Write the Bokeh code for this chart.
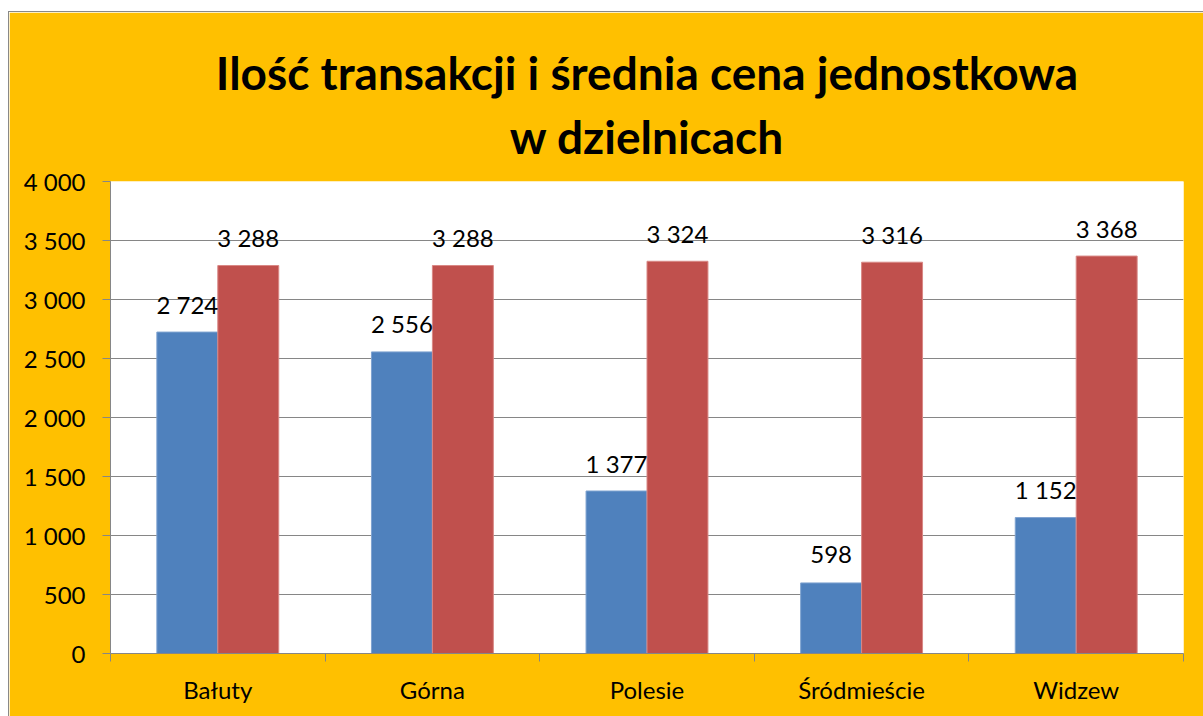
from bokeh.plotting import figure
from bokeh.models import (Range1d, LinearAxis, FixedTicker,
                          CustomJSTickFormatter, ColumnDataSource, Title)
from bokeh.core.properties import value
from bokeh.embed import file_html
from bokeh.resources import INLINE

categories = ["Bałuty", "Górna", "Polesie", "Śródmieście", "Widzew"]
transactions = [2724, 2556, 1377, 598, 1152]
avg_price = [3288, 3288, 3324, 3316, 3368]
y_ticks = [0, 500, 1000, 1500, 2000, 2500, 3000, 3500, 4000]
title_lines = ["Ilość transakcji i średnia cena jednostkowa", "w dzielnicach"]

BLUE = "#4F81BD"
RED = "#C0504D"
ORANGE = "#FFC000"
GRID = "#868686"
FONT = "Lato"
LBL = "24px"


def fmt(v):
    return f"{v:,}".replace(",", " ")


n = len(categories)
centers = [i + 0.5 for i in range(n)]
bw = 0.284

W, H = 1195, 705
p = figure(x_range=Range1d(0, n), y_range=Range1d(0, 4000), title=None,
           width=W, height=H, output_backend="svg", toolbar_location=None,
           x_axis_location=None, min_border_left=101, min_border_right=21,
           min_border_top=169, min_border_bottom=64)
p.margin = (11, 0, 0, 8)
p.styles = {"border-top": "1px solid #898989", "border-left": "1px solid #898989"}
p.background_fill_color = "white"
p.border_fill_color = ORANGE
p.outline_line_color = None

src = ColumnDataSource(dict(xb=[c - bw / 2 for c in centers], xr=[c + bw / 2 for c in centers],
                            tr=transactions, pr=avg_price,
                            tr_txt=[fmt(v) for v in transactions],
                            pr_txt=[fmt(v) for v in avg_price]))
p.vbar(x="xb", top="tr", width=bw, source=src,
       fill_color=BLUE, line_color="#7FA3D0", line_width=1)
p.vbar(x="xr", top="pr", width=bw, source=src,
       fill_color=RED, line_color="#D98885", line_width=1)

for xf, yf, tf in (("xb", "tr", "tr_txt"), ("xr", "pr", "pr_txt")):
    p.text(x=xf, y=yf, text=tf, source=src,
           text_font=value(FONT), text_font_size=LBL, text_color="black",
           text_align="center", text_baseline="alphabetic", y_offset=-28)

# y axis
yax = p.yaxis[0]
yax.ticker = FixedTicker(ticks=y_ticks)
yax.formatter = CustomJSTickFormatter(code='return tick.toString().replace(/\\B(?=(\\d{3})+(?!\\d))/g, " ");')
yax.axis_line_color = GRID
yax.major_tick_line_color = GRID
yax.major_tick_out = 8
yax.major_tick_in = 0
yax.minor_tick_line_color = None
yax.major_label_text_font = FONT
yax.major_label_text_font_size = LBL
yax.major_label_text_color = "black"
yax.major_label_standoff = 17

p.ygrid.ticker = FixedTicker(ticks=y_ticks)
p.ygrid.grid_line_color = GRID
p.ygrid.grid_line_width = 1
p.xgrid.grid_line_color = None

# x axis: boundary ticks + category labels
edge_ax = LinearAxis(ticker=FixedTicker(ticks=list(range(n + 1))),
                     formatter=CustomJSTickFormatter(code='return "";'),
                     axis_line_color=GRID, major_tick_line_color=GRID,
                     major_tick_out=8, major_tick_in=0, minor_tick_line_color=None,
                     major_label_text_font_size="1px", major_label_standoff=0)
p.add_layout(edge_ax, "below")
cat_ax = LinearAxis(ticker=FixedTicker(ticks=centers),
                    major_label_overrides={c: name for c, name in zip(centers, categories)},
                    axis_line_color=None, major_tick_line_color=None, minor_tick_line_color=None,
                    major_label_text_font=FONT, major_label_text_font_size=LBL,
                    major_label_text_color="black", major_label_standoff=7)
p.add_layout(cat_ax, "below")

for txt, so in ((title_lines[1], 36), (title_lines[0], -23)):
    p.add_layout(Title(text=txt, align="center", offset=5, standoff=so,
                       text_font=FONT, text_font_style="bold", text_font_size="46px",
                       text_color="black"), "above")

open("out.html", "w").write(file_html(p, INLINE))
